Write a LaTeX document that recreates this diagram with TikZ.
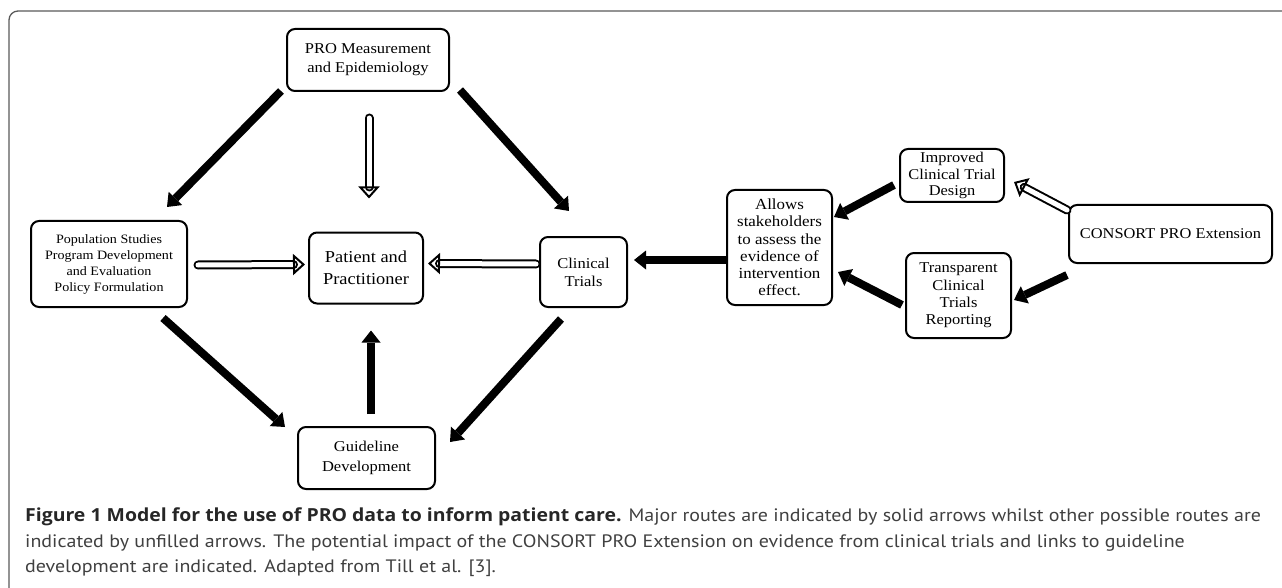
\documentclass[tikz,border=0pt]{standalone}
\usepackage{fontspec}
\setmainfont[FakeStretch=1.1]{Liberation Serif}
\newfontfamily\capfont[FakeStretch=1.11]{PT Sans}
\newfontfamily\capbold[FakeStretch=1.08]{Open Sans}
\usetikzlibrary{arrows.meta}

\begin{document}
\begin{tikzpicture}[x=1pt,y=-1pt,
  box/.style={draw, line width=2pt, rounded corners=8pt, align=center, inner sep=0pt},
  major/.style={line width=8pt, -{Triangle[length=12pt,width=19pt,line width=0pt]}},
  minor/.style={double, double distance=5pt, line width=2pt, line cap=round,
    -{Triangle[open,length=12pt,width=21pt,line width=2pt]}}]

\useasboundingbox (0,0) rectangle (1282,588);

% frame of the figure
\draw[line width=1.3pt, black!65, rounded corners=9pt] (9,588) -- (9,11) -- (1282,11);

% boxes
\node[box, minimum width=162, minimum height=62, font=\fontsize{15}{19}\selectfont] (pro) at (368,60) {PRO Measurement\\and Epidemiology};
\node[box, minimum width=156, minimum height=86, font=\fontsize{12.8}{16}\selectfont] (pop) at (109,264) {Population Studies\\Program Development\\and Evaluation\\Policy Formulation};
\node[box, minimum width=114, minimum height=71, font=\fontsize{16.7}{21.5}\selectfont] (pat) at (366,268) {Patient and\\Practitioner};
\node[box, minimum width=87, minimum height=70, font=\fontsize{15}{18}\selectfont] (clin) at (583.5,272) {Clinical\\Trials};
\node[box, minimum width=137, minimum height=62, font=\fontsize{15}{20}\selectfont] (guide) at (366.5,458) {Guideline\\Development};
\node[box, minimum width=105, minimum height=115, font=\fontsize{15.4}{17.2}\selectfont] (allow) at (779.5,247.5) {Allows\\stakeholders\\to assess the\\evidence of\\intervention\\effect.};
\node[box, minimum width=104, minimum height=53, font=\fontsize{14.9}{16.5}\selectfont] (impr) at (952,175.5) {Improved\\Clinical Trial\\Design};
\node[box, minimum width=105, minimum height=85, font=\fontsize{15}{17.3}\selectfont] (trans) at (958.5,295.5) {Transparent\\Clinical\\Trials\\Reporting};
\node[box, minimum width=203, minimum height=58, font=\fontsize{14.9}{18}\selectfont] (consort) at (1170.5,234) {CONSORT PRO Extension};

% solid arrows
\draw[major] ([shift={(-5,-1)}]pro.south west) -- ([shift={(58,-13)}]pop.north);
\draw[major] ([shift={(10,-2)}]pro.south east) -- ([shift={(-14.5,-25)}]clin.north);
\draw[major] ([shift={(54,10)}]pop.south) -- ([shift={(-12,1)}]guide.north west);
\draw[major] ([shift={(-22.5,11)}]clin.south) -- ([shift={(14,16)}]guide.north east);
\draw[major] ([shift={(4.5,-12)}]guide.north) -- ([shift={(5,26)}]pat.south);
\draw[major] ([shift={(0,12.5)}]allow.west) -- ([shift={(6,-12)}]clin.east);
\draw[major] ([shift={(-5,9.5)}]impr.west) -- ([shift={(1,28)}]allow.north east);
\draw[major] ([shift={(-3,9.5)}]trans.west) -- ([shift={(5,24.5)}]allow.east);
\draw[major] ([shift={(-1,41)}]consort.west) -- ([shift={(2,4.5)}]trans.east);

% unfilled arrows
\draw[minor] ([shift={(1,26)}]pro.south) -- ([shift={(3,-33)}]pat.north);
\draw[minor] ([shift={(10,1)}]pop.east) -- ([shift={(-3,-3.5)}]pat.west);
\draw[minor] ([shift={(-3,-8)}]clin.west) -- ([shift={(4,-4.5)}]pat.east);
\draw[minor] ([shift={(-1,-24)}]consort.west) -- ([shift={(9,6.5)}]impr.east);

% caption
\node[anchor=north west, align=left, inner sep=0pt, text=black!75, font=\capfont\fontsize{18}{25.5}\selectfont] (caption) at (25,508)
  {{\capbold\bfseries\color{black!85}Figure 1 Model for the use of PRO data to inform patient care.} Major routes are indicated by solid arrows whilst other possible routes are\\
   indicated by unfilled arrows. The potential impact of the CONSORT PRO Extension on evidence from clinical trials and links to guideline\\
   development are indicated. Adapted from Till et al. [3].};
\end{tikzpicture}
\end{document}
